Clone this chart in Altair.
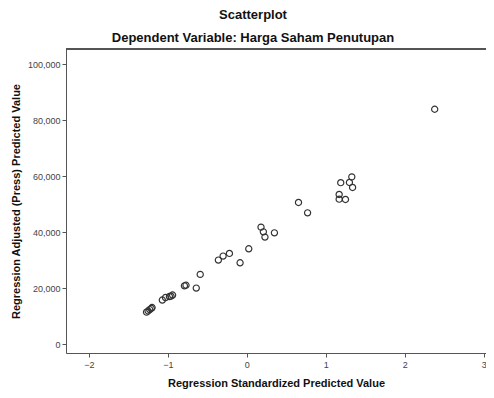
import altair as alt
import pandas as pd

# Regression Standardized Predicted Value (x) and Adjusted (Press) Predicted Value (y)
std_pred = [-1.27, -1.25, -1.23, -1.21, -1.20, -1.07, -1.03, -0.98, -0.96, -0.94,
            -0.79, -0.77, -0.64, -0.59, -0.36, -0.30, -0.22, -0.085, 0.025,
            0.18, 0.21, 0.23, 0.35, 0.655, 0.77, 1.33, 1.19, 1.30, 1.34,
            1.17, 1.17, 1.25, 2.38]
adj_pred = [11400, 11800, 12300, 12700, 13036, 15714, 16607, 16964, 17100, 17500,
            20800, 21000, 20000, 24893, 30000, 31429, 32393, 29036, 34036,
            41786, 40107, 38214, 39750, 50607, 46893, 59750, 57679, 57750, 55964,
            53464, 51786, 51679, 83929]

x_ticks = [-2, -1, 0, 1, 2, 3]
y_ticks = [0, 20000, 40000, 60000, 80000, 100000]

df = pd.DataFrame({"x": std_pred, "y": adj_pred})

W, H = 420, 304
FONT = "Liberation Sans"

points = alt.Chart(df).mark_point(
    shape="circle", filled=False, size=38, strokeWidth=1.2, color="#333333", opacity=1
).encode(
    x=alt.X("x:Q", scale=alt.Scale(domain=[-2.29, 3.03], nice=False, zero=False),
            axis=alt.Axis(values=x_ticks, title="Regression Standardized Predicted Value",
                          grid=False, tickSize=4, labelFontSize=9, labelColor="#444444",
                          titleFontSize=11, titleFont=FONT, labelFont=FONT,
                          titleFontWeight="bold", titleColor="#111111",
                          domainColor="#555555", tickColor="#555555", labelPadding=3,
                          titlePadding=8)),
    y=alt.Y("y:Q", scale=alt.Scale(domain=[-3214, 105464], nice=False, zero=False),
            axis=alt.Axis(values=y_ticks, format=",.0f", title="Regression Adjusted (Press) Predicted Value",
                          grid=False, tickSize=4, labelFontSize=9, labelColor="#444444",
                          titleFontSize=11, titleFont=FONT, labelFont=FONT,
                          titleFontWeight="bold", titleColor="#111111",
                          domainColor="#555555", tickColor="#555555", labelPadding=2,
                          titlePadding=6)),
)

top_border = alt.Chart(df).mark_rule(color="#555555", strokeWidth=1).encode(
    x=alt.value(0), x2=alt.value(W), y=alt.value(0)
)

chart = alt.layer(points, top_border).properties(
    width=W, height=H,
    autosize=alt.AutoSizeParams(type="none"),
    padding={"left": 58, "top": 41, "right": 0, "bottom": 36},
    title=alt.TitleParams(
        text="Scatterplot",
        subtitle="Dependent Variable: Harga Saham Penutupan",
        fontSize=13, subtitleFontSize=13, font=FONT, subtitleFont=FONT,
        fontWeight="bold", subtitleFontWeight="bold",
        color="#111111", subtitleColor="#111111",
        anchor="middle", dx=-23, offset=4, subtitlePadding=10,
    ),
).configure_view(stroke=None).configure(background="white")

chart.save("out.html", embed_options={"renderer": "svg", "actions": False})
